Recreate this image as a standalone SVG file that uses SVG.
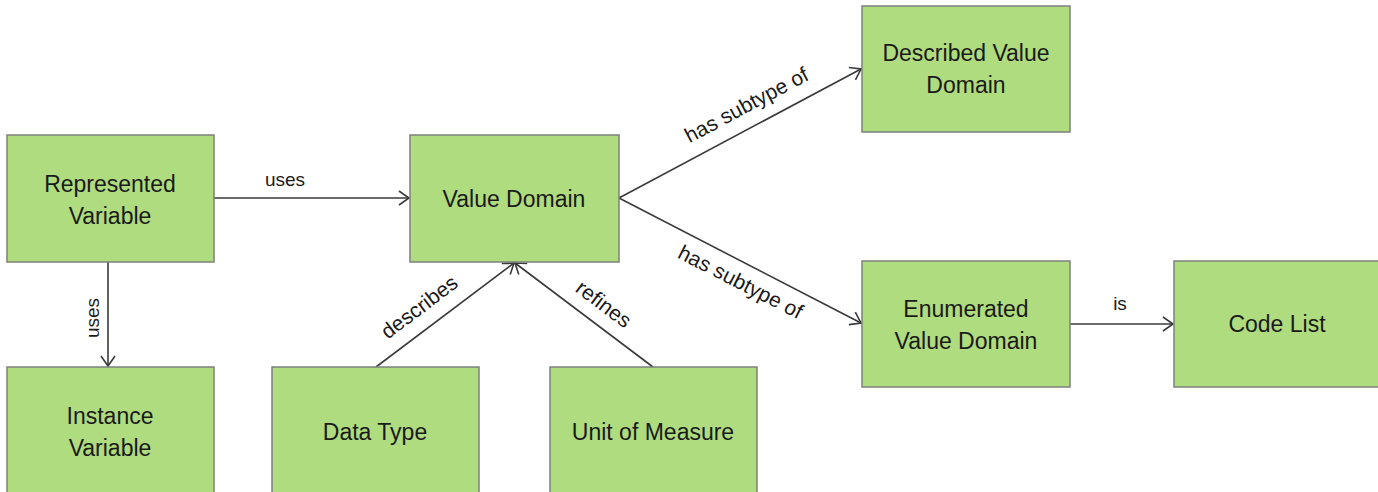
<svg xmlns="http://www.w3.org/2000/svg" width="1378" height="492" viewBox="0 0 1378 492">
<style>
.box{fill:#afdc7e;stroke:#7f7f7f;stroke-width:1.5}
.nt{font-family:"Liberation Sans",Arial,sans-serif;font-size:23px;fill:#1a1a1a;text-anchor:middle}
.lt{font-family:"Liberation Sans",Arial,sans-serif;font-size:19px;fill:#1a1a1a;text-anchor:middle}
.dl{font-size:21px}
.ln{stroke:#3a3a3a;stroke-width:1.6;fill:none;marker-end:url(#arr)}
</style>
<defs>
<marker id="arr" markerUnits="userSpaceOnUse" markerWidth="14" markerHeight="18" refX="11" refY="8" orient="auto" viewBox="0 0 14 18">
<path d="M1,1 L11,8 L1,15" fill="none" stroke="#3a3a3a" stroke-width="1.6"/>
</marker>
</defs>
<rect width="1378" height="492" fill="#ffffff"/>
<g id="connectors">
<line class="ln" x1="214" y1="198" x2="409" y2="198"/>
<line class="ln" x1="108" y1="262" x2="108" y2="366"/>
<line class="ln" x1="376" y1="367" x2="514" y2="263"/>
<line class="ln" x1="653" y1="367" x2="515" y2="263"/>
<line class="ln" x1="619" y1="198" x2="861" y2="69"/>
<line class="ln" x1="619" y1="198" x2="861" y2="323"/>
<line class="ln" x1="1070" y1="324" x2="1173" y2="324"/>
<text class="lt" x="285" y="186">uses</text>
<text class="lt" transform="translate(93,318) rotate(-90)" y="6">uses</text>
<text class="lt dl" transform="translate(420,308) rotate(-37)" y="6">describes</text>
<text class="lt dl" transform="translate(603,305) rotate(37)" y="6">refines</text>
<text class="lt dl" transform="translate(747,106) rotate(-28)" y="6">has subtype of</text>
<text class="lt dl" transform="translate(740,283) rotate(27)" y="6">has subtype of</text>
<text class="lt" x="1120" y="310">is</text>
</g>
<g id="represented-variable">
<rect class="box" x="7" y="135" width="207" height="127"/>
<text class="nt" x="110" y="192">Represented</text>
<text class="nt" x="110" y="224">Variable</text>
</g>
<g id="value-domain">
<rect class="box" x="410" y="135" width="209" height="127"/>
<text class="nt" x="514" y="207">Value Domain</text>
</g>
<g id="described-value-domain">
<rect class="box" x="862" y="6" width="208" height="126"/>
<text class="nt" x="966" y="61">Described Value</text>
<text class="nt" x="966" y="93">Domain</text>
</g>
<g id="enumerated-value-domain">
<rect class="box" x="862" y="261" width="208" height="126"/>
<text class="nt" x="966" y="317">Enumerated</text>
<text class="nt" x="966" y="349">Value Domain</text>
</g>
<g id="code-list">
<rect class="box" x="1174" y="261" width="208" height="126"/>
<text class="nt" x="1277" y="332">Code List</text>
</g>
<g id="instance-variable">
<rect class="box" x="7" y="367" width="207" height="135"/>
<text class="nt" x="110" y="424">Instance</text>
<text class="nt" x="110" y="456">Variable</text>
</g>
<g id="data-type">
<rect class="box" x="272" y="367" width="207" height="135"/>
<text class="nt" x="375" y="440">Data Type</text>
</g>
<g id="unit-of-measure">
<rect class="box" x="550" y="367" width="207" height="135"/>
<text class="nt" x="653" y="440">Unit of Measure</text>
</g>
</svg>
